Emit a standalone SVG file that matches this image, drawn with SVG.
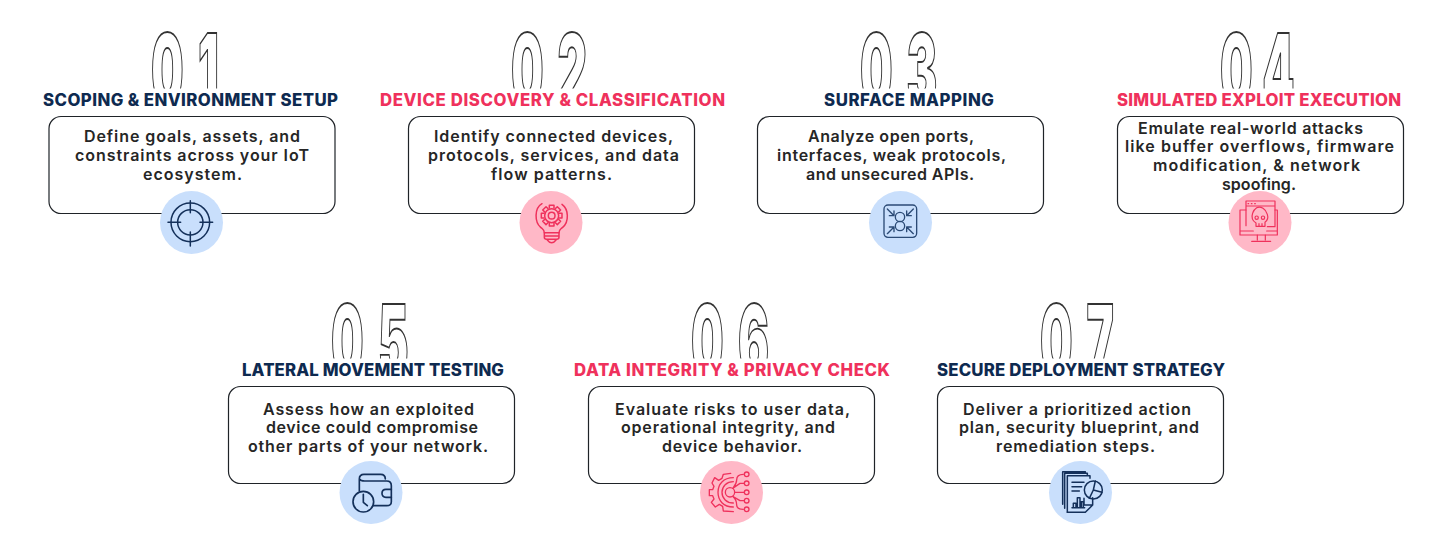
<svg xmlns="http://www.w3.org/2000/svg" width="1452" height="558" viewBox="0 0 1452 558">
<style>
text{font-family:"Inter","Noto Sans","Liberation Sans",sans-serif}
.card{fill:#fff;stroke:#1f2328;stroke-width:1.2}
.title{font-size:16.8px;font-weight:800}
.navy{fill:#0e2a50}
.pink{fill:#ef315c}
.body{font-size:16px;font-weight:600;fill:#262626}
text.num{font-size:100px;font-weight:900;fill:#fff;stroke:#333;stroke-width:1.5;vector-effect:non-scaling-stroke}
.bc{fill:#c9dffc}
.pc{fill:#ffb8c7}
.in{fill:none;stroke:#14305a;stroke-width:4.5;stroke-linecap:round;stroke-linejoin:round}
.ip{fill:none;stroke:#ef315c;stroke-width:4.5;stroke-linecap:round;stroke-linejoin:round}
</style>
<defs>
<clipPath id="topclip"><rect x="0" y="0" width="1452" height="88.5"/></clipPath>
<clipPath id="botclip"><rect x="0" y="290" width="1452" height="68.5"/></clipPath>
<path id="tooth" d="M-7 -23V-31H7V-23"/>
<path id="arrow" d="M0 0L20 20M20 6V20H6"/>
</defs>
<rect width="1452" height="558" fill="#fff"/>
<g id="connectors"/>

<g id="node-01">
<g clip-path="url(#topclip)"><text class="num" transform="translate(151 105.500) scale(.46 1)" x="0 102">01</text></g>
<text class="title navy" x="43" y="106" textLength="295">SCOPING &amp; ENVIRONMENT SETUP</text>
<rect class="card" x="49" y="116.500" width="286" height="97" rx="12"/>
<text class="body" x="84" y="142" textLength="216">Define goals, assets, and</text>
<text class="body" x="75" y="161" textLength="234">constraints across your IoT</text>
<text class="body" x="143" y="179.500" textLength="99">ecosystem.</text>
<circle class="bc" cx="191.500" cy="222.500" r="31.500"/>
<g class="in" transform="translate(30 20) scale(.3333)">
<circle cx="481" cy="607" r="58"/><circle cx="481" cy="607" r="38"/>
<path d="M481 542V578M481 636V678M414 607H452M510 607H548"/>
</g>
</g>

<g id="node-02">
<g clip-path="url(#topclip)"><text class="num" transform="translate(511 105.500) scale(.46 1)" x="0 101">02</text></g>
<text class="title pink" x="380" y="106" textLength="345">DEVICE DISCOVERY &amp; CLASSIFICATION</text>
<rect class="card" x="408.500" y="116.500" width="286" height="97" rx="12"/>
<text class="body" x="434" y="142" textLength="239">Identify connected devices,</text>
<text class="body" x="428" y="161" textLength="251">protocols, services, and data</text>
<text class="body" x="491" y="179.500" textLength="121">flow patterns.</text>
<circle class="pc" cx="551" cy="222.500" r="31.500"/>
<g class="ip" transform="translate(510 185) scale(.3333)">
<path d="M96 56C72 70 74 112 92 127C100 134 103 134 103 143H147C147 134 150 134 158 127C178 110 176 72 156 58"/>
<path d="M103 143V157Q103 163 110 163H140Q147 163 147 157V143M103 153H147M112 165Q125 182 138 165"/>
<circle cx="125" cy="92" r="21"/><circle cx="125" cy="92" r="10"/>
<g transform="translate(125 92)"><use href="#tooth"/><use href="#tooth" transform="rotate(45)"/><use href="#tooth" transform="rotate(90)"/><use href="#tooth" transform="rotate(135)"/><use href="#tooth" transform="rotate(180)"/><use href="#tooth" transform="rotate(225)"/><use href="#tooth" transform="rotate(270)"/><use href="#tooth" transform="rotate(315)"/></g>
</g>
</g>

<g id="node-03">
<g clip-path="url(#topclip)"><text class="num" transform="translate(860 105.500) scale(.46 1)" x="0 101">03</text></g>
<text class="title navy" x="824" y="106" textLength="170">SURFACE MAPPING</text>
<rect class="card" x="757.500" y="116.500" width="286" height="97" rx="12"/>
<text class="body" x="808" y="142" textLength="166">Analyze open ports,</text>
<text class="body" x="777" y="161" textLength="229">interfaces, weak protocols,</text>
<text class="body" x="806" y="179.500" textLength="168">and unsecured APIs.</text>
<circle class="bc" cx="900.500" cy="222.500" r="31.500"/>
<g class="in" style="stroke:#2b4a75;stroke-width:4" transform="translate(860 185) scale(.3333)">
<rect x="72" y="60" width="98" height="97" rx="12"/>
<circle cx="120" cy="96" r="14"/><circle cx="120" cy="123" r="14"/>
<use href="#arrow" transform="translate(82 72)"/>
<use href="#arrow" transform="translate(160 72) scale(-1 1)"/>
<use href="#arrow" transform="translate(82 146) scale(1 -1)"/>
<use href="#arrow" transform="translate(160 146) scale(-1 -1)"/>
</g>
</g>

<g id="node-04">
<g clip-path="url(#topclip)"><text class="num" transform="translate(1220 105.500) scale(.46 1)" x="0 92">04</text></g>
<text class="title pink" x="1117" y="106" textLength="284">SIMULATED EXPLOIT EXECUTION</text>
<rect class="card" x="1117.500" y="116.500" width="286" height="97" rx="12"/>
<text class="body" x="1138" y="133.500" textLength="225">Emulate real-world attacks</text>
<text class="body" x="1125" y="152" textLength="269">like buffer overflows, firmware</text>
<text class="body" x="1153" y="171" textLength="207">modification, &amp; network</text>
<text class="body" x="1222" y="190" textLength="74">spoofing.</text>
<circle class="pc" cx="1260" cy="222.500" r="31.500"/>
<g class="ip" transform="translate(1220 185) scale(.3333)" style="stroke-width:3.600">
<path d="M78 122V48H165V125H142M78 63H165"/>
<path d="M84 56H86M94 56H96M104 56H106"/>
<path d="M78 75H60V150H172V75H165M60 138H100M140 138H172"/>
<path d="M112 150V165M136 150V165M95 169H152"/>
<path d="M110 68C122 62 138 72 142 88C146 100 140 108 135 112V124H108V114C98 108 94 96 98 84C100 76 104 72 110 68Z"/>
<circle cx="110" cy="98" r="5"/><circle cx="129" cy="98" r="5"/><path d="M117 124V116M126 124V116"/>
</g>
</g>

<g id="node-05">
<g clip-path="url(#botclip)"><text class="num" transform="translate(331 376.500) scale(.46 1)" x="0 102">05</text></g>
<text class="title navy" x="242" y="376" textLength="262">LATERAL MOVEMENT TESTING</text>
<rect class="card" x="228.500" y="386.500" width="286" height="97" rx="12"/>
<text class="body" x="263" y="415" textLength="211">Assess how an exploited</text>
<text class="body" x="266" y="433" textLength="212">device could compromise</text>
<text class="body" x="248" y="452" textLength="240">other parts of your network.</text>
<circle class="bc" cx="371" cy="492.500" r="31.500"/>
<g class="in" transform="translate(330 455) scale(.3333)" style="stroke-width:5">
<path d="M88 108V72Q88 58 102 58H152Q166 58 166 72M88 72Q92 78 104 78H170Q184 78 184 92V140Q184 152 170 152H130"/>
<path d="M184 103H168Q156 103 156 115Q156 127 168 127H184"/>
<circle cx="100" cy="140" r="31"/><path d="M100 118V142L112 152"/>
</g>
</g>

<g id="node-06">
<g clip-path="url(#botclip)"><text class="num" transform="translate(691 376.500) scale(.46 1)" x="0 102">06</text></g>
<text class="title pink" x="574" y="376" textLength="316">DATA INTEGRITY &amp; PRIVACY CHECK</text>
<rect class="card" x="588.500" y="386.500" width="286" height="97" rx="12"/>
<text class="body" x="615" y="415" textLength="235">Evaluate risks to user data,</text>
<text class="body" x="621" y="433" textLength="214">operational integrity, and</text>
<text class="body" x="662" y="452" textLength="140">device behavior.</text>
<circle class="pc" cx="731.500" cy="492.500" r="31.500"/>
<g class="ip" transform="translate(690 455) scale(.3333)" style="stroke-width:4">
<path d="M122 55L100 58L96 70L86 76L74 68L66 84L72 94L68 104H58V122H68L72 132L64 142L76 156L88 148L98 154L100 168L130 170"/>
<path d="M130 68C100 68 84 88 84 112C84 136 100 156 130 156"/>
<path d="M130 80C110 80 96 94 96 112C96 130 110 144 130 144"/>
<circle cx="120" cy="112" r="14"/>
<path d="M134 112H163M130 98Q140 85 140 75Q140 58 160 58M130 126Q140 135 140 150Q140 163 160 163M128 100L150 85H163M128 124L150 137H163"/>
<circle cx="170" cy="58" r="7"/><circle cx="170" cy="85" r="7"/><circle cx="170" cy="112" r="7"/><circle cx="170" cy="137" r="7"/><circle cx="170" cy="163" r="7"/>
</g>
</g>

<g id="node-07">
<g clip-path="url(#botclip)"><text class="num" transform="translate(1040 376.500) scale(.46 1)" x="0 101">07</text></g>
<text class="title navy" x="937" y="376" textLength="288">SECURE DEPLOYMENT STRATEGY</text>
<rect class="card" x="937.500" y="386.500" width="286" height="97" rx="12"/>
<text class="body" x="963" y="415" textLength="228">Deliver a prioritized action</text>
<text class="body" x="959" y="433" textLength="240">plan, security blueprint, and</text>
<text class="body" x="996" y="452" textLength="159">remediation steps.</text>
<circle class="bc" cx="1080.500" cy="492.500" r="31.500"/>
<g class="in" transform="translate(1040 455) scale(.3333)">
<path d="M82 172V62H150V70M74 160V55H142V62M68 148V50H136V55"/>
<path d="M132 130V150H158V128M158 150L136 172H82"/>
<path d="M96 82H132M96 95H125M96 108H118"/>
<path d="M100 158V145H108V158M112 158V128H120V158M124 158V140H130V158M96 158H134"/>
<circle cx="160" cy="105" r="27"/><path d="M160 105L166 78M160 105L186 112M160 105L148 130"/>
</g>
</g>
</svg>
